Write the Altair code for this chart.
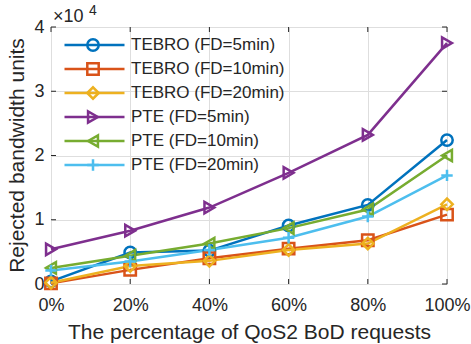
import altair as alt
import pandas as pd

# ---- data ----
x_pct = [0, 20, 40, 60, 80, 100]
series_names = [
    "TEBRO (FD=5min)",
    "TEBRO (FD=10min)",
    "TEBRO (FD=20min)",
    "PTE (FD=5min)",
    "PTE (FD=10min)",
    "PTE (FD=20min)",
]
tebro_5 = [400, 4900, 5200, 9100, 12300, 22400]
tebro_10 = [100, 2200, 4000, 5500, 6800, 10800]
tebro_20 = [200, 2800, 3600, 5300, 6300, 12400]
pte_5 = [5400, 8300, 11900, 17300, 23200, 37500]
pte_10 = [2500, 4400, 6300, 8700, 11600, 20000]
pte_20 = [2100, 3500, 5300, 7200, 10500, 16900]
y_ticks = [0, 10000, 20000, 30000, 40000]

colors = ["#0072BD", "#D95319", "#EDB120", "#7E2F8E", "#77AC30", "#4DBEEE"]
shapes = ["circle", "square", "diamond", "triangle-right", "triangle-left",
          "M-1,0H1M0,-1V1"]

all_vals = [tebro_5, tebro_10, tebro_20, pte_5, pte_10, pte_20]
rows = []
for k, (name, vals) in enumerate(zip(series_names, all_vals)):
    for x, v in zip(x_pct, vals):
        rows.append({"pct": x, "units": v, "series": name, "series_m": name, "order": k})
df = pd.DataFrame(rows)
df_xt = pd.DataFrame({"pct": x_pct})
df_yt = pd.DataFrame({"units": y_ticks})

FONT = "Liberation Sans"
TXT = "#262626"
W, H = 396, 257
TL = 5  # inward tick length

xscale = alt.Scale(domain=[0, 100], nice=False, zero=False)
yscale = alt.Scale(domain=[0, 40000], nice=False)

xenc = alt.X(
    "pct:Q", scale=xscale,
    axis=alt.Axis(
        values=x_pct, labelExpr="datum.value + '%'",
        title="The percentage of QoS2 BoD requests",
        titleFont=FONT, titleFontSize=21, titleFontWeight="normal", titleColor=TXT,
        titleBaseline="alphabetic", titleY=54,
        labelFont=FONT, labelFontSize=18, labelColor=TXT,
        labelBaseline="alphabetic", labelPadding=26, labelFlush=False,
        ticks=False, tickSize=0, domain=False,
        grid=True, gridColor="#dedede", gridWidth=1,
    ),
)
yenc = alt.Y(
    "units:Q", scale=yscale,
    axis=alt.Axis(
        values=y_ticks, labelExpr="datum.value / 10000",
        title="Rejected bandwidth units",
        titleFont=FONT, titleFontSize=21, titleFontWeight="normal", titleColor=TXT,
        titleBaseline="alphabetic", titleX=-28, titleY=128,
        labelFont=FONT, labelFontSize=18, labelColor=TXT, labelPadding=7,
        ticks=False, tickSize=0, domain=False,
        grid=True, gridColor="#dedede", gridWidth=1,
    ),
)

sort_order = alt.EncodingSortField(field="order", op="min")

lines = alt.Chart(df).mark_line(strokeWidth=2.5).encode(
    x=xenc, y=yenc,
    color=alt.Color(
        "series:N", sort=sort_order, scale=alt.Scale(range=colors),
        legend=alt.Legend(
            orient="none", legendX=12, legendY=7, title=None, padding=0,
            symbolType="stroke", symbolSize=3600, symbolStrokeWidth=2.5,
            clipHeight=22, rowPadding=2, labelOffset=5,
            labelFont=FONT, labelFontSize=17, labelColor=TXT, labelLimit=300,
        ),
    ),
)

pt_legend = alt.Legend(
    orient="none", legendX=35, legendY=7, title=None, padding=0,
    symbolSize=130, symbolStrokeWidth=2.5, symbolFillColor="transparent",
    clipHeight=22, rowPadding=2, labelOffset=0,
    labelFontSize=1, labelExpr="''",
)

points = alt.Chart(df).mark_point(filled=False, strokeWidth=2.5, size=130, opacity=1).encode(
    x=xenc, y=yenc,
    stroke=alt.Stroke("series_m:N", sort=sort_order, scale=alt.Scale(range=colors),
                      legend=pt_legend),
    shape=alt.Shape("series_m:N", sort=sort_order, scale=alt.Scale(range=shapes),
                    legend=pt_legend),
)

# inward tick marks (MATLAB style) on all four sides
tick_style = dict(color=TXT, strokeWidth=1)
xt_bottom = alt.Chart(df_xt).mark_rule(**tick_style).encode(
    x=alt.X("pct:Q", scale=xscale), y=alt.value(H - TL), y2=alt.value(H))
xt_top = alt.Chart(df_xt).mark_rule(**tick_style).encode(
    x=alt.X("pct:Q", scale=xscale), y=alt.value(0), y2=alt.value(TL))
yt_left = alt.Chart(df_yt).mark_rule(**tick_style).encode(
    y=alt.Y("units:Q", scale=yscale), x=alt.value(0), x2=alt.value(TL))
yt_right = alt.Chart(df_yt).mark_rule(**tick_style).encode(
    y=alt.Y("units:Q", scale=yscale), x=alt.value(W - TL), x2=alt.value(W))

mult = alt.Chart(pd.DataFrame({"t": ["\u00d710"]})).mark_text(
    font=FONT, fontSize=18, color=TXT, align="left", baseline="alphabetic"
).encode(x=alt.value(2), y=alt.value(-5), text="t:N")

expo = alt.Chart(pd.DataFrame({"t": ["4"]})).mark_text(
    font=FONT, fontSize=14, color=TXT, align="left", baseline="alphabetic"
).encode(x=alt.value(38), y=alt.value(-12), text="t:N")

chart = alt.layer(xt_bottom, xt_top, yt_left, yt_right, lines, points, mult, expo).properties(
    width=W, height=H,
    autosize=alt.AutoSizeParams(type="none"),
    padding={"left": 51, "top": 27, "right": 24, "bottom": 60},
).configure_view(stroke=TXT, strokeWidth=1.2).configure(background="white")

chart.save("out.html", embed_options={"renderer": "svg", "actions": False})
